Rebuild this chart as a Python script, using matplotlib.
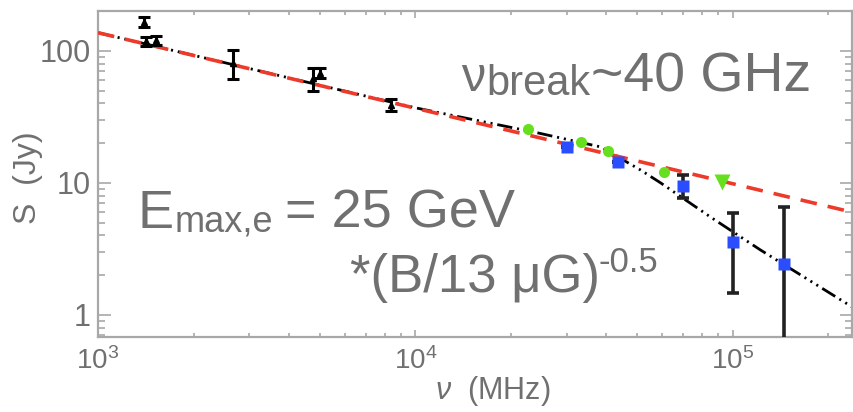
import matplotlib
matplotlib.use("Agg")
import matplotlib.pyplot as plt
from matplotlib.ticker import FixedLocator, FixedFormatter, LogLocator, NullFormatter

plt.rcParams['font.family'] = ['Liberation Sans', 'DejaVu Sans']
plt.rcParams['mathtext.fontset'] = 'custom'
plt.rcParams['mathtext.rm'] = 'Liberation Sans'
plt.rcParams['mathtext.it'] = 'Liberation Sans:italic'
plt.rcParams['lines.scale_dashes'] = False

# ---- data ----
radio_nu = [1400, 1420, 1520, 2670, 4750, 5000, 8400]
radio_S = [165, 118, 120, 81, 62, 68, 39]
radio_err = [15, 10, 9, 20, 12, 6, 4]

green_nu = [22700, 33200, 40600, 60600]
green_S = [25.6, 20.5, 17.5, 12.1]

blue_nu = [30100, 43600, 70000, 100600, 145000]
blue_S = [18.7, 14.4, 9.5, 3.57, 2.43]
blue_err_lo = [0, 0, 1.8, 2.1, 2.2]
blue_err_hi = [0, 0, 1.9, 2.3, 4.1]

tri_nu = [92900]
tri_S = [10.2]

powerlaw_nu = [1000, 238000]
powerlaw_S = [137, 6.0]

break_nu = [1000, 10000, 24300, 38400, 51300, 59300, 85300, 122500, 238000]
break_S = [137, 37, 23.9, 18.7, 12.5, 10.0, 5.5, 3.1, 1.15]

xticks = [1e3, 1e4, 1e5]
xticklabels = [r'$10^{3}$', r'$10^{4}$', r'$10^{5}$']
yticks = [1, 10, 100]
yticklabels = ['1', '10', '100']

W, H = 854, 412
fig = plt.figure(figsize=(W / 100, H / 100), dpi=100)
L, R, B, T = 98, 852, 337, 11
ax = fig.add_axes([L / W, 1 - B / H, (R - L) / W, (B - T) / H])

ax.set_xscale('log')
ax.set_yscale('log')
ax.set_xlim(1000, 2.38e5)
ax.set_ylim(0.68, 200)

gray = '#a8a8a8'
tgray = '#707070'

ax.plot(break_nu, break_S, color='black', lw=2.0,
        linestyle=(0, (11, 3.5, 1.5, 3.5, 1.5, 3.5, 1.5, 3.5)), zorder=2)
ax.plot(powerlaw_nu, powerlaw_S, color='#ee3a2a', lw=2.6,
        linestyle=(0, (12, 8)), zorder=3)

ax.errorbar(radio_nu, radio_S, yerr=radio_err, fmt='^', color='black',
            ms=5, elinewidth=2.2, capsize=4, capthick=2.2, zorder=4)
ax.errorbar(blue_nu, blue_S, yerr=[blue_err_lo, blue_err_hi], fmt='none',
            ecolor='#222222', elinewidth=2.6, capsize=4.5, capthick=2.6, zorder=4)
ax.plot(blue_nu, blue_S, 's', color='#2a4dff', ms=8.5, mec='none', zorder=5)
ax.plot(green_nu, green_S, 'o', color='#66e01e', ms=8, mec='none', zorder=5)
ax.plot(tri_nu, tri_S, 'v', color='#66e01e', ms=11, mec='none', zorder=5)

for s in ax.spines.values():
    s.set_color(gray)
    s.set_linewidth(1.6)

ax.xaxis.set_major_locator(FixedLocator(xticks))
ax.xaxis.set_major_formatter(FixedFormatter(xticklabels))
ax.xaxis.set_minor_locator(LogLocator(base=10, subs=range(2, 10)))
ax.xaxis.set_minor_formatter(NullFormatter())
ax.yaxis.set_major_locator(FixedLocator(yticks))
ax.yaxis.set_major_formatter(FixedFormatter(yticklabels))
ax.yaxis.set_minor_locator(LogLocator(base=10, subs=range(2, 10)))
ax.yaxis.set_minor_formatter(NullFormatter())

ax.tick_params(axis='both', which='both', direction='in', top=True, right=True,
               color=gray, width=1.2, labelcolor=tgray)
ax.tick_params(axis='x', which='major', length=5, labelsize=20, pad=7)
ax.tick_params(axis='x', which='minor', length=3)
ax.tick_params(axis='y', which='major', length=9, labelsize=22, pad=5)
ax.tick_params(axis='y', which='minor', length=5)

ax.set_xlabel(r'$\nu$  (MHz)', fontsize=22, color=tgray)
ax.xaxis.set_label_coords((493 - L) / (R - L), (B - 374) / (B - T))
ax.set_ylabel('S  (Jy)', fontsize=23, color=tgray)
ax.yaxis.set_label_coords((43 - L) / (R - L), (B - 178) / (B - T))


def ptext(x, y, s, size):
    fig.text(x / W, 1 - y / H, s, fontsize=size, color=tgray,
             ha='left', va='baseline')


ptext(461, 91, '\u03bd', 35)
ptext(486, 95, 'break', 30)
ptext(591, 91, '~40 GHz', 40)

ptext(138, 228, 'E', 39)
ptext(175, 231, 'max,e', 26)
ptext(285, 228, '= 25 GeV', 39)
ptext(350, 292, '*(B/13 \u03bcG)', 38)
ptext(599, 272, '-0.5', 25)

fig.savefig('out.png', dpi=100)
